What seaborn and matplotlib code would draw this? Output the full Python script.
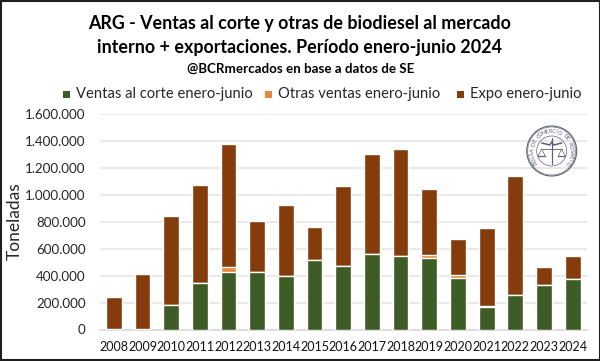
#!/usr/bin/env python3
"""Ventas de biodiesel al mercado interno + exportaciones, enero-junio."""

import matplotlib
matplotlib.use('Agg')
import matplotlib.pyplot as plt
from matplotlib.patches import Circle, Rectangle
from matplotlib.ticker import FuncFormatter
import numpy as np
import pandas as pd
import seaborn as sns

years = [2008, 2009, 2010, 2011, 2012, 2013, 2014, 2015, 2016,
         2017, 2018, 2019, 2020, 2021, 2022, 2023, 2024]
ventas_corte = [0, 0, 180000, 346000, 428000, 428000, 398000, 515000, 468000,
                557000, 542000, 532000, 381000, 168000, 257000, 329000, 376000]
otras_ventas = [2000, 2000, 2000, 2000, 32000, 1000, 1000, 2000, 2000,
                1000, 1000, 17000, 20000, 5000, 1000, 1000, 1000]
expo = [240000, 408000, 659000, 721000, 915000, 372000, 524000, 243000, 594000,
        746000, 795000, 492000, 267000, 582000, 877000, 135000, 167000]

series_names = ['Ventas al corte enero-junio', 'Otras ventas enero-junio', 'Expo enero-junio']
series_colors = ['#3e5c25', '#e8873a', '#843c0c']
yticks = [0, 200000, 400000, 600000, 800000, 1000000, 1200000, 1400000, 1600000]

W, H = 600, 361
UI_FONT = ['Lato', 'DejaVu Sans']

sns.set_theme(style='white')
plt.rcParams['font.family'] = UI_FONT

fig = plt.figure(figsize=(W / 100, H / 100), dpi=100, facecolor='white')
ax = fig.add_axes([99.5 / W, 1 - 329.5 / H, 487.5 / W, 215.8 / H])

df = pd.DataFrame({'year': years, series_names[0]: ventas_corte,
                   series_names[1]: otras_ventas, series_names[2]: expo})

# stacked by hand: seaborn barplot has no stack option, so draw the
# cumulative totals back to front and let each one cover the next
cum = df[series_names].cumsum(axis=1)
for name, color in reversed(list(zip(series_names, series_colors))):
    sns.barplot(x=df['year'], y=cum[name], color=color, width=0.55, ax=ax,
                saturation=1, zorder=3)

ax.set_ylim(0, 1600000)
ax.set_xlim(-0.5, len(years) - 0.5)
ax.set_yticks(yticks)
ax.yaxis.set_major_formatter(FuncFormatter(lambda v, _: f'{int(v):,}'.replace(',', '.')))
ax.grid(axis='y', color='#e3e3e3', linewidth=1.1, zorder=0)
ax.set_axisbelow(True)
sns.despine(ax=ax, left=True, bottom=False)
ax.spines['bottom'].set_color('#d9d9d9')
ax.tick_params(axis='both', length=0)
ax.tick_params(axis='y', labelsize=9.6, labelcolor='#262626', pad=10)
ax.tick_params(axis='x', labelsize=9.0, labelcolor='#111111', pad=8)
ax.set_xlabel('')
ax.set_ylabel('')

# overlay in pixel coordinates for title, legend, frame and seal
ov = fig.add_axes([0, 0, 1, 1], facecolor='none')
ov.set_xlim(0, W)
ov.set_ylim(H, 0)
ov.axis('off')

ov.text(299.5, 24, 'ARG - Ventas al corte y otras de biodiesel al mercado', ha='center', va='center',
        fontsize=12.9, fontweight='bold', color='black')
ov.text(299.5, 47, 'interno + exportaciones. Período enero-junio 2024', ha='center', va='center',
        fontsize=12.9, fontweight='bold', color='black')
ov.text(300.5, 69, '@BCRmercados en base a datos de SE', ha='center', va='center',
        fontsize=9.6, fontweight='bold', color='black')
ov.text(14.5, 221, 'Toneladas', rotation=90, ha='center', va='center', fontsize=12.5, color='#262626')

legend_x = [63, 265, 457]
for x0, name, color in zip(legend_x, series_names, series_colors):
    ov.add_patch(Rectangle((x0, 91), 7, 7, color=color, lw=0))
    ov.text(x0 + 13, 94, name, ha='left', va='center', fontsize=10.65, color='#262626')

# seal of the Bolsa de Comercio de Rosario
cx, cy = 551.7, 151
seal = '#5a6270'
for r, lw in [(25, 0.8), (24, 0.4), (15, 0.5)]:
    ov.add_patch(Circle((cx, cy), r, fill=False, edgecolor=seal, lw=lw))
ring_text = 'BOLSA DE COMERCIO DE ROSARIO'
for ch, ang in zip(ring_text, np.linspace(-125, 125, len(ring_text))):
    t = np.deg2rad(ang)
    ov.text(cx + 19.5 * np.sin(t), cy - 19.5 * np.cos(t), ch, rotation=-ang, ha='center', va='center',
            fontsize=4, color=seal, rotation_mode='anchor')
ov.plot([cx, cx], [cy - 13, cy + 13], color=seal, lw=0.9)
ov.plot([cx - 10, cx - 2, cx, cx + 2, cx + 10], [cy - 8, cy - 6, cy - 9, cy - 6, cy - 8], color=seal, lw=1.1)
ov.plot([cx - 10, cx + 10], [cy - 2, cy - 2], color=seal, lw=0.6)
for side in (-1, 1):
    px = cx + side * 10
    ov.plot([px - 3.5, px, px + 3.5], [cy + 5, cy - 2, cy + 5], color=seal, lw=0.5)
    ov.plot([px - 3.5, px + 3.5], [cy + 5, cy + 5], color=seal, lw=0.9)

# dark picture frame
ov.add_patch(Rectangle((0.5, 0.5), W - 1, H - 1.5, fill=False, edgecolor='#1f1f1f', lw=1.5, clip_on=False))

fig.savefig('out.png', dpi=100, facecolor='white')
plt.close(fig)
